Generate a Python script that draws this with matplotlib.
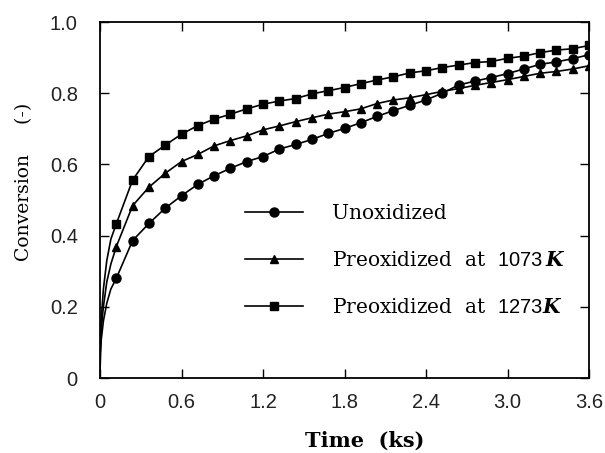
import numpy as np
import matplotlib.pyplot as plt
from matplotlib.lines import Line2D

plt.rcParams['mathtext.fontset'] = 'custom'
plt.rcParams['mathtext.rm'] = 'DejaVu Serif'
plt.rcParams['mathtext.sf'] = 'Liberation Sans'
plt.rcParams['mathtext.bf'] = 'DejaVu Serif:bold'
plt.rcParams['mathtext.bfit'] = 'DejaVu Serif:bold:italic'

# temps des mesures (ks)
t = [0.12, 0.24, 0.36, 0.48, 0.60, 0.72, 0.84, 0.96, 1.08, 1.20,
     1.32, 1.44, 1.56, 1.68, 1.80, 1.92, 2.04, 2.16, 2.28, 2.40,
     2.52, 2.64, 2.76, 2.88, 3.00, 3.12, 3.24, 3.36, 3.48, 3.60]

unox = [0.280, 0.386, 0.434, 0.477, 0.512, 0.544, 0.568, 0.589, 0.608, 0.622,
        0.643, 0.656, 0.670, 0.687, 0.701, 0.717, 0.735, 0.751, 0.766, 0.781,
        0.800, 0.823, 0.834, 0.844, 0.855, 0.868, 0.881, 0.888, 0.897, 0.908]
pre1073 = [0.369, 0.484, 0.536, 0.575, 0.608, 0.628, 0.652, 0.667, 0.680, 0.697,
           0.708, 0.720, 0.731, 0.741, 0.748, 0.756, 0.771, 0.781, 0.787, 0.796,
           0.805, 0.813, 0.822, 0.830, 0.838, 0.847, 0.856, 0.861, 0.868, 0.877]
pre1273 = [0.433, 0.556, 0.622, 0.654, 0.685, 0.709, 0.727, 0.741, 0.756, 0.769,
           0.778, 0.785, 0.798, 0.807, 0.816, 0.827, 0.837, 0.846, 0.857, 0.863,
           0.872, 0.879, 0.886, 0.889, 0.898, 0.904, 0.914, 0.921, 0.925, 0.934]

# debut des courbes (sans marqueurs)
t_head = [0.0, 0.003, 0.01, 0.025, 0.05, 0.08]
unox_head = [0.0, 0.07, 0.11, 0.16, 0.21, 0.25]
pre1073_head = [0.0, 0.08, 0.14, 0.20, 0.27, 0.32]
pre1273_head = [0.0, 0.10, 0.17, 0.25, 0.33, 0.39]

labels = [r'Unoxidized',
          r'Preoxidized  at  $\mathsf{1073}\,\mathbfit{K}$',
          r'Preoxidized  at  $\mathsf{1273}\mathbfit{K}$']
markers = ['o', '^', 's']
msizes = [6.5, 5.5, 5.5]

fig = plt.figure(figsize=(6.05, 4.53), dpi=100)
ax = fig.add_axes([100 / 605, 1 - 378 / 453, 489 / 605, 356 / 453])

series = [(unox_head, unox), (pre1073_head, pre1073), (pre1273_head, pre1273)]
for (head, vals), m, ms in zip(series, markers, msizes):
    ax.plot(t_head + t, head + vals, color='black', lw=1.2)
    ax.plot(t, vals, ls='none', marker=m, ms=ms, color='black')

ax.set_xlim(0, 3.6)
ax.set_ylim(0, 1.0)
ax.set_xticks([0, 0.6, 1.2, 1.8, 2.4, 3.0, 3.6])
ax.set_xticklabels(['0', '0.6', '1.2', '1.8', '2.4', '3.0', '3.6'])
ax.set_yticks([0, 0.2, 0.4, 0.6, 0.8, 1.0])
ax.set_yticklabels(['0', '0.2', '0.4', '0.6', '0.8', '1.0'])
ax.tick_params(direction='in', length=6.5, width=1.0, top=True, right=True,
               labelsize=14.5, labelcolor='#222222')
ax.tick_params(axis='x', pad=11)
ax.tick_params(axis='y', pad=16)
for lab in ax.get_xticklabels() + ax.get_yticklabels():
    lab.set_family('Liberation Sans')
for s in ax.spines.values():
    s.set_linewidth(1.3)

handles = [Line2D([], [], color='black', lw=1.2, marker=m, ms=ms)
           for m, ms in zip(markers, msizes)]
ax.legend(handles, labels, loc='upper left', bbox_to_anchor=(0.28, 0.51),
          frameon=False, handlelength=2.9, handletextpad=1.4, labelspacing=1.38,
          prop={'family': 'DejaVu Serif', 'size': 14.5}, borderaxespad=0)

fig.text(365 / 605, 1 - 441 / 453, 'Time  (ks)', ha='center', va='center',
         family='DejaVu Serif', fontsize=15, fontweight='bold')
fig.text(24 / 605, 1 - 182 / 453, 'Conversion     (-)', ha='center', va='center',
         rotation=90, family='DejaVu Serif', fontsize=13.5)

plt.savefig('out.png', dpi=100)
